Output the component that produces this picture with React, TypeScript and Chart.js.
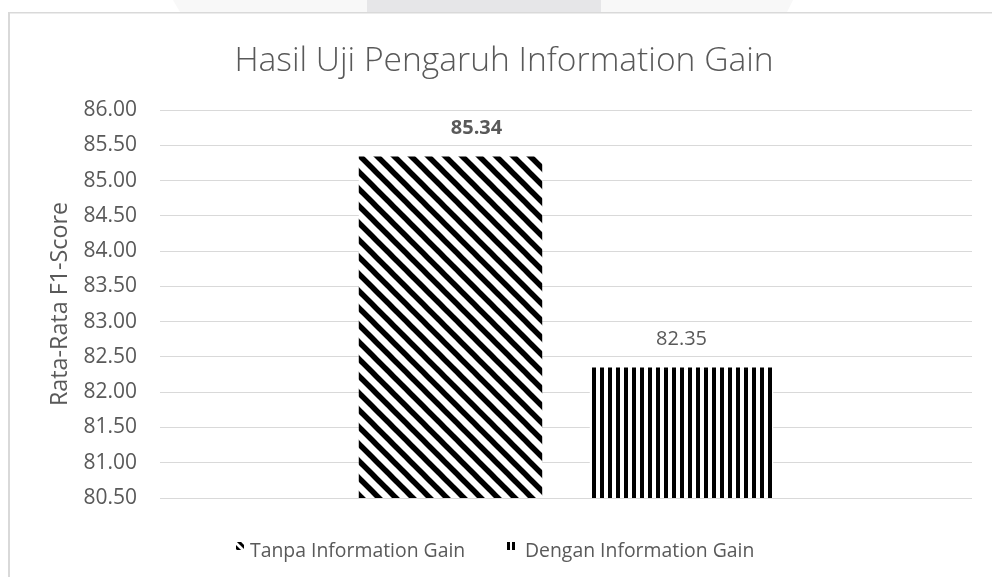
import React, { useEffect, useRef } from "react";
import { Chart, registerables } from "chart.js";

Chart.register(...registerables);

const categories = [""];
const seriesNames = ["Tanpa Information Gain", "Dengan Information Gain"];
const tanpaValues = [85.34];
const denganValues = [82.35];
const yMin = 80.5;
const yMax = 86;
const yStep = 0.5;
const chartTitle = "Hasil Uji Pengaruh Information Gain";
const yAxisTitle = "Rata-Rata F1-Score";

const FONT = "'Open Sans', 'Noto Sans', sans-serif";
const TEXT = "#595959";

function makeDiagPattern(ctx: CanvasRenderingContext2D) {
  const s = 17;
  const c = document.createElement("canvas");
  c.width = s;
  c.height = s;
  const g = c.getContext("2d")!;
  g.fillStyle = "#ffffff";
  g.fillRect(0, 0, s, s);
  g.strokeStyle = "#000000";
  g.lineWidth = 5.5;
  for (const off of [-s, 0, s]) {
    g.beginPath();
    g.moveTo(off - 3, -3);
    g.lineTo(off + s + 3, s + 3);
    g.stroke();
  }
  return ctx.createPattern(c, "repeat")!;
}

function makeVertPattern(ctx: CanvasRenderingContext2D) {
  const w = 8;
  const c = document.createElement("canvas");
  c.width = w;
  c.height = 4;
  const g = c.getContext("2d")!;
  g.fillStyle = "#ffffff";
  g.fillRect(0, 0, w, 4);
  g.fillStyle = "#000000";
  g.fillRect(0, 0, 4, 4);
  return ctx.createPattern(c, "repeat")!;
}

export default function App() {
  const ref = useRef<HTMLCanvasElement | null>(null);

  useEffect(() => {
    const canvas = ref.current!;
    const ctx = canvas.getContext("2d")!;
    const diag = makeDiagPattern(ctx);
    const vert = makeVertPattern(ctx);

    const drawKey = (c: CanvasRenderingContext2D, i: number, x: number, y: number) => {
      c.save();
      c.fillStyle = "#000000";
      if (i === 0) {
        // small diagonal-stripe key
        c.beginPath();
        c.rect(x, y, 8, 8);
        c.clip();
        c.strokeStyle = "#000000";
        c.lineWidth = 3;
        c.beginPath();
        c.moveTo(x + 2, y - 1);
        c.lineTo(x + 11, y + 8);
        c.stroke();
        c.beginPath();
        c.moveTo(x - 4, y + 1);
        c.lineTo(x + 4, y + 9);
        c.stroke();
      } else {
        // small vertical-stripe key
        c.fillRect(x, y, 3, 8);
        c.fillRect(x + 5, y, 3, 8);
      }
      c.restore();
    };

    const decor = {
      id: "decor",
      beforeDraw(chart: any) {
        const c = chart.ctx as CanvasRenderingContext2D;
        c.save();
        c.fillStyle = "#ffffff";
        c.fillRect(0, 0, chart.width, chart.height);
        // faint watermark at the top edge
        c.fillStyle = "#f8f8f8";
        c.beginPath();
        c.moveTo(173, 0);
        c.lineTo(793, 0);
        c.lineTo(787, 12);
        c.lineTo(180, 12);
        c.closePath();
        c.fill();
        c.fillStyle = "#e6e6e8";
        c.fillRect(367, 0, 234, 12);
        // chart frame
        c.fillStyle = "#d9d9d9";
        c.fillRect(8, 12, chart.width - 8, 1.5);
        c.fillRect(8, 12, 2, chart.height - 12);
        c.restore();
      },
      afterDraw(chart: any) {
        const c = chart.ctx as CanvasRenderingContext2D;
        const area = chart.chartArea;
        c.save();
        c.fillStyle = TEXT;
        // title
        c.font = `300 33.6px ${FONT}`;
        c.textAlign = "center";
        c.textBaseline = "alphabetic";
        c.fillText(chartTitle, 504, 71);
        // y axis title
        c.save();
        c.translate(60, (area.top + area.bottom) / 2);
        c.rotate(-Math.PI / 2);
        c.font = `23.3px ${FONT}`;
        c.textBaseline = "middle";
        c.fillText(yAxisTitle, 0, 0);
        c.restore();
        // data labels
        chart.data.datasets.forEach((ds: any, i: number) => {
          const meta = chart.getDatasetMeta(i);
          meta.data.forEach((el: any, j: number) => {
            const v = ds.data[j] as number;
            c.font = `${i === 0 ? "bold " : ""}20px ${FONT}`;
            c.textAlign = "center";
            c.textBaseline = "middle";
            const dx = i === 0 ? 26 : 0;
            c.fillText(v.toFixed(2), el.x + dx, el.y - 28);
          });
        });
        // legend
        c.font = `19.4px ${FONT}`;
        c.textBaseline = "alphabetic";
        c.textAlign = "left";
        const keyX = [236, 507];
        const textX = [250, 525];
        seriesNames.forEach((n, i) => {
          drawKey(c, i, keyX[i], 542);
          c.fillStyle = TEXT;
          c.fillText(n, textX[i], 556.5);
        });
        c.restore();
      },
    };

    const chart = new Chart(canvas, {
      type: "bar",
      data: {
        labels: categories,
        datasets: [
          {
            label: seriesNames[0],
            data: tanpaValues,
            backgroundColor: diag as any,
            categoryPercentage: 0.569,
            barPercentage: 0.794,
          },
          {
            label: seriesNames[1],
            data: denganValues,
            backgroundColor: vert as any,
            categoryPercentage: 0.569,
            barPercentage: 0.794,
          },
        ],
      },
      options: {
        responsive: false,
        animation: false,
        devicePixelRatio: 1,
        layout: { padding: { left: 10, right: 20, top: 110, bottom: 79 } },
        plugins: {
          legend: { display: false },
          title: { display: false },
          tooltip: { enabled: false },
        },
        scales: {
          x: { display: false },
          y: {
            min: yMin,
            max: yMax,
            ticks: {
              stepSize: yStep,
              callback: (v: any) => Number(v).toFixed(2),
              color: TEXT,
              font: { family: FONT, size: 21 },
              padding: 23,
            },
            grid: { color: "#d9d9d9", drawTicks: false, lineWidth: 1 },
            border: { display: false },
            afterFit: (s: any) => {
              s.width = 150;
            },
          },
        },
      },
      plugins: [decor],
    });
    return () => chart.destroy();
  }, []);

  return (
    <div style={{ position: "fixed", left: 0, top: 0, width: 992, height: 577, background: "#fff" }}>
      <canvas ref={ref} width={992} height={577} style={{ display: "block" }} />
    </div>
  );
}
